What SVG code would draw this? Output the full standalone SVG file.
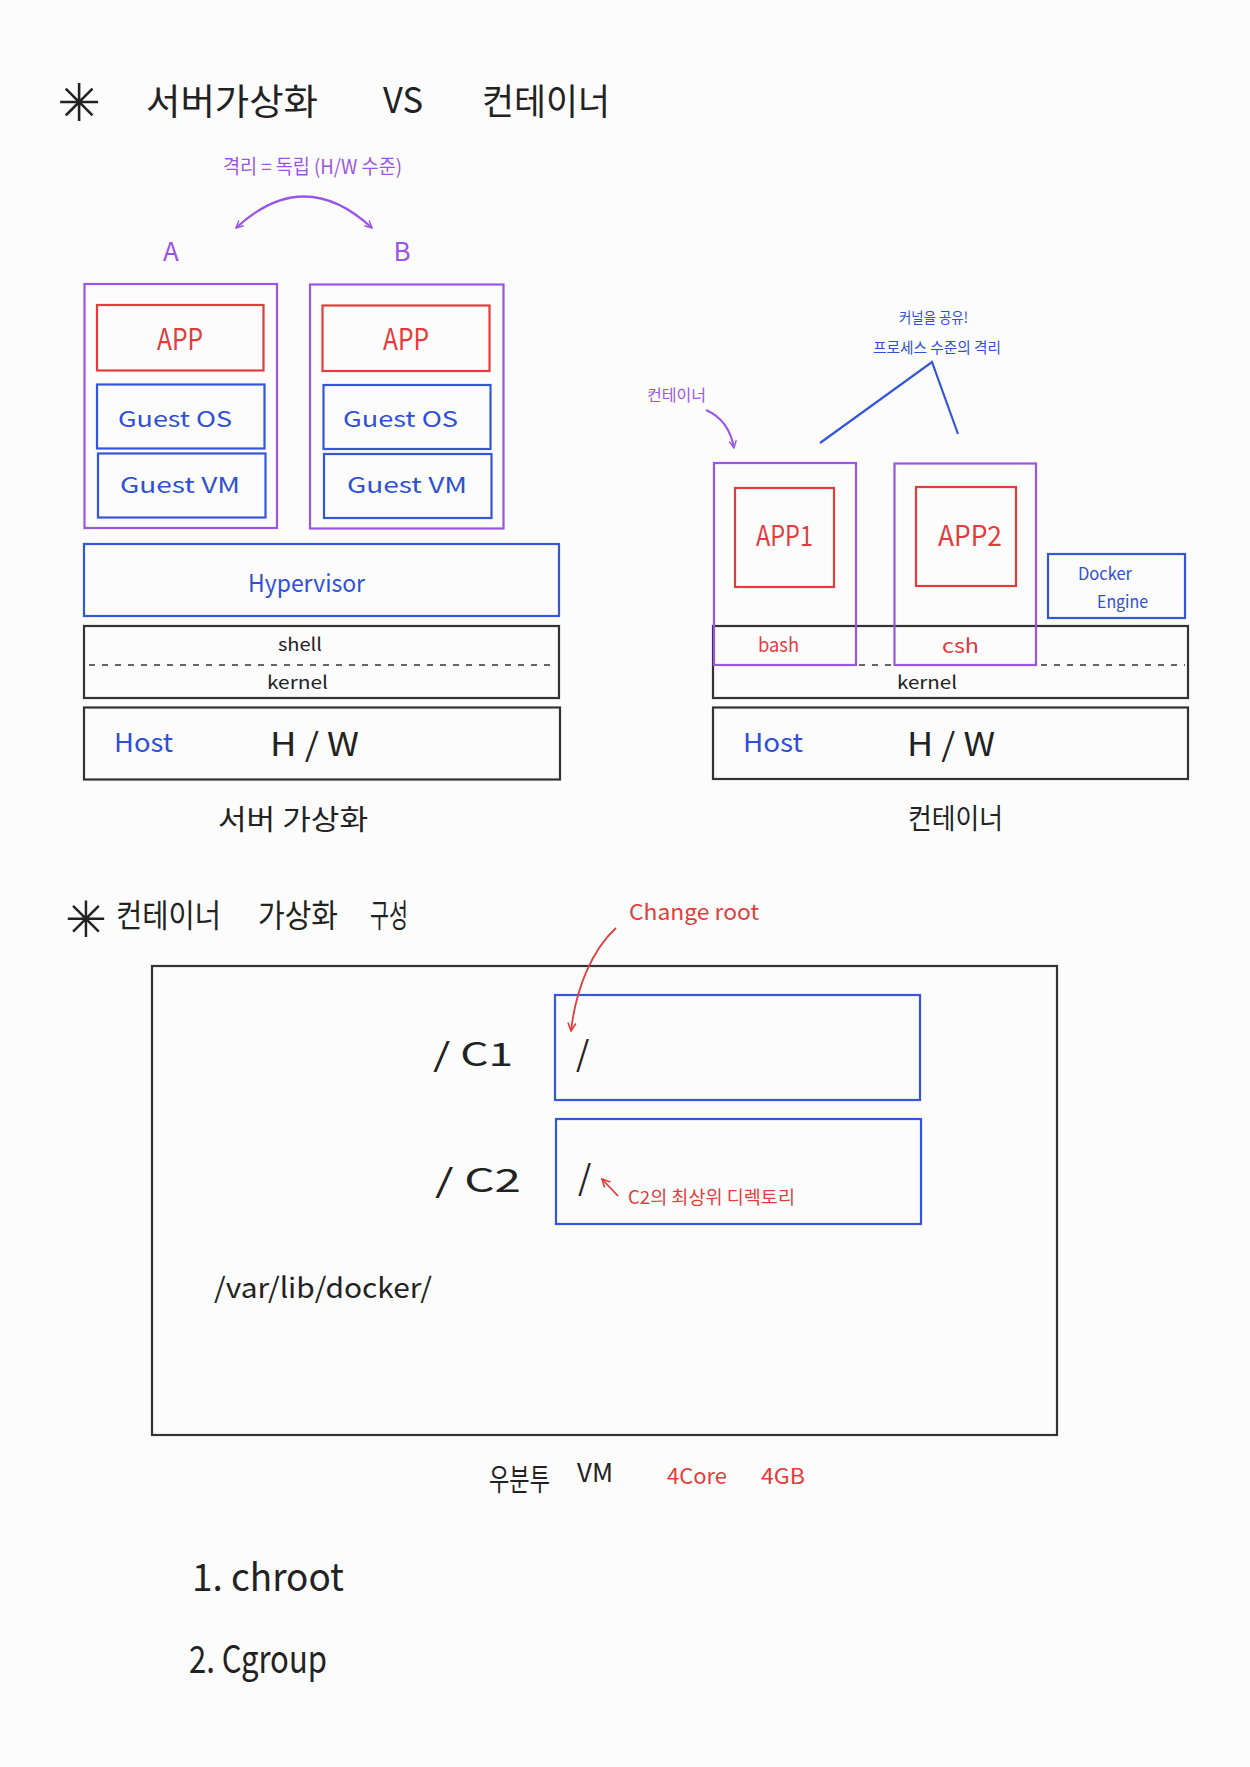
<svg xmlns="http://www.w3.org/2000/svg" width="1250" height="1767" viewBox="0 0 1250 1767">
<style>
text{font-family:"Noto Sans CJK KR","Noto Sans",sans-serif;}
.k{fill:#222;}
.p{fill:#9b55e4;}
.r{fill:#e23c3c;}
.b{fill:#2f50d6;}
.bp{fill:none;stroke:#9b55e4;stroke-width:2.2;}
.br{fill:none;stroke:#e23c3c;stroke-width:2.2;}
.bb{fill:none;stroke:#3556d8;stroke-width:2.2;}
.bk{fill:none;stroke:#333;stroke-width:2.2;}
.dash{stroke:#333;stroke-width:1.6;stroke-dasharray:6 7;fill:none;}
.ast{font-family:"DejaVu Sans",sans-serif;fill:#222;}
</style>
<defs>
<marker id="ap" viewBox="0 0 10 10" refX="9" refY="5" markerWidth="9" markerHeight="9" markerUnits="userSpaceOnUse" orient="auto-start-reverse"><path d="M1,1 L9,5 L1,9" fill="none" stroke="#9b55e4" stroke-width="1.6"/></marker>
<marker id="ar" viewBox="0 0 10 10" refX="9" refY="5" markerWidth="10" markerHeight="10" markerUnits="userSpaceOnUse" orient="auto"><path d="M1,1 L9,5 L1,9" fill="none" stroke="#e23c3c" stroke-width="1.6"/></marker>
</defs>
<rect width="1250" height="1767" fill="#fcfcfc"/>

<g id="title">
<text class="ast" x="79" y="121" font-size="52" text-anchor="middle">✳</text>
<text class="k" x="146" y="115" font-size="36" textLength="172" lengthAdjust="spacingAndGlyphs">서버가상화</text>
<text class="k" x="383" y="113" font-size="36" textLength="40" lengthAdjust="spacingAndGlyphs">VS</text>
<text class="k" x="482" y="115" font-size="36" textLength="128" lengthAdjust="spacingAndGlyphs">컨테이너</text>
</g>

<g id="isolation-label">
<text class="p" x="223" y="174" font-size="20" textLength="179" lengthAdjust="spacingAndGlyphs">격리 = 독립 (H/W 수준)</text>
<text class="p" x="171" y="261" font-size="26" text-anchor="middle">A</text>
<text class="p" x="402" y="261" font-size="26" text-anchor="middle">B</text>
</g>

<g id="vm-a">
<rect class="bp" x="84.5" y="284" width="192.5" height="244"/>
<rect class="br" x="97" y="305" width="166.5" height="65.5"/>
<text class="r" x="180" y="350" font-size="30" text-anchor="middle" textLength="46" lengthAdjust="spacingAndGlyphs">APP</text>
<rect class="bb" x="97" y="384.5" width="167.5" height="64"/>
<text class="b" x="118" y="427" font-size="22" textLength="114" lengthAdjust="spacingAndGlyphs">Guest OS</text>
<rect class="bb" x="98" y="453.5" width="167.5" height="64"/>
<text class="b" x="120" y="493" font-size="22" textLength="120" lengthAdjust="spacingAndGlyphs">Guest VM</text>
</g>

<g id="vm-b">
<rect class="bp" x="310" y="284.5" width="193.5" height="244"/>
<rect class="br" x="322.5" y="305.5" width="167" height="65.5"/>
<text class="r" x="406" y="350" font-size="30" text-anchor="middle" textLength="46" lengthAdjust="spacingAndGlyphs">APP</text>
<rect class="bb" x="323.5" y="385" width="167" height="64"/>
<text class="b" x="343" y="427" font-size="22" textLength="115" lengthAdjust="spacingAndGlyphs">Guest OS</text>
<rect class="bb" x="324" y="454" width="167.5" height="64"/>
<text class="b" x="347" y="493" font-size="22" textLength="120" lengthAdjust="spacingAndGlyphs">Guest VM</text>
</g>

<g id="hypervisor">
<rect class="bb" x="84" y="544" width="475" height="72"/>
<text class="b" x="248" y="592" font-size="24" textLength="117" lengthAdjust="spacingAndGlyphs">Hypervisor</text>
</g>

<g id="os-left">
<rect class="bk" x="84" y="626" width="475" height="72"/>
<line class="dash" x1="89" y1="665" x2="555" y2="665"/>
<text class="k" x="278" y="651" font-size="18" textLength="44" lengthAdjust="spacingAndGlyphs">shell</text>
<text class="k" x="267" y="689" font-size="18" textLength="61" lengthAdjust="spacingAndGlyphs">kernel</text>
</g>

<g id="hw-left">
<rect class="bk" x="84" y="707.5" width="476" height="72"/>
<text class="b" x="114" y="752" font-size="26" textLength="59" lengthAdjust="spacingAndGlyphs">Host</text>
<text class="k" x="270" y="756" font-size="32" textLength="89" lengthAdjust="spacingAndGlyphs">H / W</text>
</g>
<text class="k" x="218" y="830" font-size="28" textLength="150" lengthAdjust="spacingAndGlyphs">서버 가상화</text>

<g id="kernel-share-label">
<text class="b" x="899" y="323" font-size="15" textLength="69" lengthAdjust="spacingAndGlyphs">커널을 공유!</text>
<text class="b" x="873" y="353" font-size="15" textLength="128" lengthAdjust="spacingAndGlyphs">프로세스 수준의 격리</text>
</g>
<text class="p" x="647" y="401" font-size="16" textLength="59" lengthAdjust="spacingAndGlyphs">컨테이너</text>

<g id="os-right">
<rect class="bk" x="713" y="626" width="475" height="72"/>
<line class="dash" x1="716" y1="665" x2="1185" y2="665"/>
<text class="k" x="897" y="689" font-size="18" textLength="60" lengthAdjust="spacingAndGlyphs">kernel</text>
</g>

<g id="container-1">
<rect class="bp" x="714" y="463" width="142" height="202"/>
<rect class="br" x="735" y="488" width="99" height="99"/>
<text class="r" x="756" y="546" font-size="28" textLength="57" lengthAdjust="spacingAndGlyphs">APP1</text>
<text class="r" x="758" y="652" font-size="20" textLength="41" lengthAdjust="spacingAndGlyphs">bash</text>
</g>

<g id="container-2">
<rect class="bp" x="894.5" y="463.5" width="141.5" height="201.5"/>
<rect class="br" x="916" y="487" width="100" height="99"/>
<text class="r" x="938" y="546" font-size="28" textLength="64" lengthAdjust="spacingAndGlyphs">APP2</text>
<text class="r" x="942" y="653" font-size="20" textLength="37" lengthAdjust="spacingAndGlyphs">csh</text>
</g>

<g id="docker-engine">
<rect class="bb" x="1048" y="554" width="137" height="64"/>
<text class="b" x="1078" y="580" font-size="17" textLength="54" lengthAdjust="spacingAndGlyphs">Docker</text>
<text class="b" x="1097" y="608" font-size="17" textLength="51" lengthAdjust="spacingAndGlyphs">Engine</text>
</g>

<g id="hw-right">
<rect class="bk" x="713" y="707.5" width="475" height="71.5"/>
<text class="b" x="743" y="752" font-size="26" textLength="60" lengthAdjust="spacingAndGlyphs">Host</text>
<text class="k" x="907" y="756" font-size="32" textLength="88" lengthAdjust="spacingAndGlyphs">H / W</text>
</g>
<text class="k" x="908" y="829" font-size="28" textLength="95" lengthAdjust="spacingAndGlyphs">컨테이너</text>

<g id="title-2">
<text class="ast" x="86" y="937" font-size="50" text-anchor="middle">✳</text>
<text class="k" x="116" y="927" font-size="32" textLength="105" lengthAdjust="spacingAndGlyphs">컨테이너</text>
<text class="k" x="258" y="927" font-size="32" textLength="80" lengthAdjust="spacingAndGlyphs">가상화</text>
<text class="k" x="370" y="927" font-size="32" textLength="38" lengthAdjust="spacingAndGlyphs">구성</text>
</g>
<text class="r" x="629" y="920" font-size="22" textLength="130" lengthAdjust="spacingAndGlyphs">Change root</text>

<g id="ubuntu-vm">
<rect class="bk" x="152" y="966" width="905" height="469"/>
<text class="k" x="214" y="1298" font-size="28" textLength="218" lengthAdjust="spacingAndGlyphs">/var/lib/docker/</text>
</g>

<g id="c1">
<text class="k" x="433" y="1066" font-size="32" textLength="80" lengthAdjust="spacingAndGlyphs">/  C1</text>
<rect class="bb" x="555" y="995" width="365" height="105"/>
<text class="k" x="576" y="1066" font-size="34">/</text>
</g>

<g id="c2">
<text class="k" x="435" y="1192" font-size="32" textLength="86" lengthAdjust="spacingAndGlyphs">/  C2</text>
<rect class="bb" x="556" y="1119" width="365" height="105"/>
<text class="k" x="578" y="1190" font-size="34">/</text>
<text class="r" x="628" y="1204" font-size="18" textLength="167" lengthAdjust="spacingAndGlyphs">C2의 최상위 디렉토리</text>
</g>

<g id="vm-caption">
<text class="k" x="489" y="1490" font-size="30" textLength="61" lengthAdjust="spacingAndGlyphs">우분투</text>
<text class="k" x="577" y="1482" font-size="26" textLength="36" lengthAdjust="spacingAndGlyphs">VM</text>
<text class="r" x="667" y="1484" font-size="22" textLength="60" lengthAdjust="spacingAndGlyphs">4Core</text>
<text class="r" x="761" y="1484" font-size="22" textLength="44" lengthAdjust="spacingAndGlyphs">4GB</text>
</g>

<g id="list">
<text class="k" x="192" y="1591" font-size="38" textLength="152" lengthAdjust="spacingAndGlyphs">1. chroot</text>
<text class="k" x="189" y="1673" font-size="38" textLength="138" lengthAdjust="spacingAndGlyphs">2. Cgroup</text>
</g>

<g id="connectors">
<path d="M236 228 Q304 165 372 228" fill="none" stroke="#9b55e4" stroke-width="2.2" marker-start="url(#ap)" marker-end="url(#ap)"/>
<polyline points="820,443 932,362 958,434" fill="none" stroke="#3556d8" stroke-width="2.2"/>
<path d="M706 410 Q729 420 734 448" fill="none" stroke="#9b55e4" stroke-width="2" marker-end="url(#ap)"/>
<path d="M616 928 C592 950 576 988 571 1031" fill="none" stroke="#e23c3c" stroke-width="1.8" marker-end="url(#ar)"/>
<path d="M618 1196 L602 1179" fill="none" stroke="#e23c3c" stroke-width="1.8" marker-end="url(#ar)"/>
</g>
</svg>
